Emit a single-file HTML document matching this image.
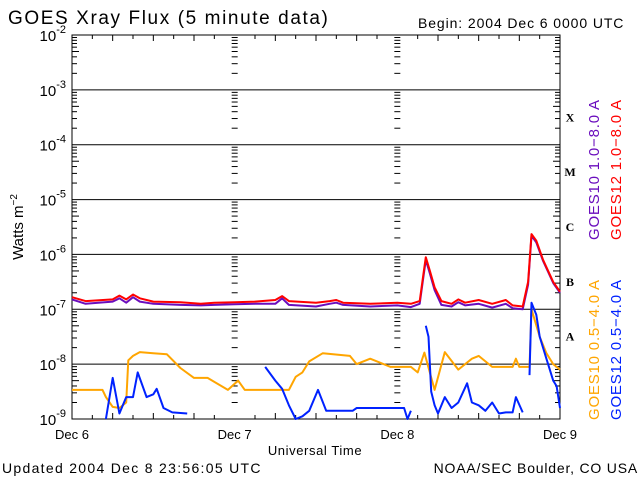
<!DOCTYPE html>
<html><head><meta charset="utf-8"><style>
body{margin:0;background:#fff}
svg{display:block;font-family:"Liberation Sans",sans-serif}
</style></head><body>
<svg id="c" width="640" height="480" viewBox="0 0 640 480">
<text x="8" y="24" font-size="19" letter-spacing="1.6">GOES Xray Flux (5 minute data)</text>
<text x="418" y="28" font-size="14" letter-spacing="0.9">Begin:  2004 Dec 6 0000 UTC</text>
<text x="315" y="455" font-size="13" letter-spacing="0.6" text-anchor="middle">Universal Time</text>
<text x="2" y="473" font-size="14" letter-spacing="1.3">Updated 2004 Dec  8 23:56:05 UTC</text>
<text x="638" y="473" font-size="14" letter-spacing="0.8" text-anchor="end">NOAA/SEC Boulder, CO USA</text>
<text transform="translate(23,227) rotate(-90)" font-size="15" text-anchor="middle">Watts m<tspan dy="-6" font-size="10">−2</tspan></text>
<g font-size="15" letter-spacing="0.8">
<text transform="translate(599,240) rotate(-90)" fill="#6a0dbd">GOES10 1.0−8.0 A</text>
<text transform="translate(621,240) rotate(-90)" fill="#ff0000">GOES12 1.0−8.0 A</text>
<text transform="translate(599,420) rotate(-90)" fill="#ffa500">GOES10 0.5−4.0 A</text>
<text transform="translate(621,420) rotate(-90)" fill="#0022ff">GOES12 0.5−4.0 A</text>
</g>
</svg>
<script>
const dayLabels=["Dec 6","Dec 7","Dec 8","Dec 9"];
const decadeExps=[-2,-3,-4,-5,-6,-7,-8,-9];
const classLetters=["X","M","C","B","A"];
const g12LongT=[0,2,6,7,8,9,10,12,16,19,21,24,27,30,31,32,36,38,39,40,44,48,50,51.3,51.8,52.2,52.8,53.5,54.5,56,57,58,60,62,64,65,66.5,67.3,67.8,68.5,69.5,71,72];
const g12LongV=[-6.78,-6.85,-6.82,-6.75,-6.82,-6.73,-6.8,-6.86,-6.87,-6.9,-6.88,-6.87,-6.86,-6.83,-6.76,-6.85,-6.88,-6.85,-6.83,-6.88,-6.9,-6.88,-6.9,-6.85,-6.4,-6.05,-6.3,-6.6,-6.85,-6.9,-6.82,-6.88,-6.83,-6.9,-6.83,-6.93,-6.95,-6.5,-5.63,-5.75,-6.1,-6.5,-6.68];
const g10LongT=[0,2,6,7,8,9,10,12,16,19,21,24,27,30,31,32,36,38,39,40,44,48,50,51.3,51.8,52.2,52.8,53.5,54.5,56,57,58,60,62,64,65,66.5,67.3,67.8,68.5,69.5,71,72];
const g10LongV=[-6.82,-6.9,-6.86,-6.8,-6.88,-6.78,-6.86,-6.9,-6.92,-6.93,-6.92,-6.91,-6.9,-6.9,-6.8,-6.92,-6.95,-6.9,-6.88,-6.92,-6.95,-6.93,-6.96,-6.9,-6.45,-6.1,-6.35,-6.65,-6.92,-6.95,-6.87,-6.93,-6.9,-6.97,-6.9,-6.98,-7.0,-6.55,-5.66,-5.78,-6.12,-6.52,-6.7];
const g10ShortT=[0,4.5,5,6,7,8,8.3,9,10,12,14,16,18,20,23,24.5,25.5,32,33,34,35,37,41,42,44,47,50,51,52,53.5,55,57,59,60,62,65,65.5,66,67.5,67.8,69,70,71,72];
const g10ShortV=[-8.47,-8.47,-8.6,-8.78,-8.8,-8.7,-7.93,-7.85,-7.78,-7.8,-7.82,-8.07,-8.25,-8.25,-8.47,-8.3,-8.47,-8.47,-8.23,-8.15,-7.95,-7.8,-7.85,-8.0,-7.9,-8.05,-8.05,-8.15,-7.79,-8.47,-7.78,-8.1,-7.9,-7.85,-8.05,-8.05,-7.9,-8.05,-8.05,-7.0,-7.5,-7.8,-8.0,-8.1];
const g12ShortT=[5,6,7,8,9,9.7,11,12,12.5,13.5,14.8,17,18,22,22.5,28.3,28.5,30,31,32,33,34,35,36.3,37.5,41.4,42,49,49.5,50,50.5,51.3,52.2,52.6,53,53.5,54,55,56,57,58.3,59,60,61,62,63,64,65,65.5,66.5,67,67.5,67.8,68.5,69,70,71,71.5,72];
const g12ShortV=[-9,-8.25,-8.9,-8.6,-8.6,-8.15,-8.6,-8.55,-8.45,-8.8,-8.88,-8.9,-9.1,-8.9,-9.1,-9.1,-8.05,-8.3,-8.45,-8.75,-9,-8.95,-8.85,-8.47,-8.85,-8.85,-8.8,-8.8,-9,-8.85,-9.1,-9.1,-7.3,-7.5,-8.5,-8.75,-8.9,-8.6,-8.8,-8.7,-8.35,-8.7,-8.75,-8.85,-8.7,-8.9,-8.88,-8.88,-8.6,-8.88,-9.05,-8.2,-6.88,-7.1,-7.5,-7.9,-8.3,-8.4,-8.8];

const NS="http://www.w3.org/2000/svg";
const svg=document.getElementById("c");
const L=72,R=560,T=35,B=419;
const xs=h=>L+(R-L)*h/72;
const ys=v=>T+(B-T)*(-2-v)/7;
function mk(tag,attrs,parent){const e=document.createElementNS(NS,tag);for(const k in attrs)e.setAttribute(k,attrs[k]);(parent||svg).appendChild(e);return e;}
const axes=mk("g",{stroke:"#000","stroke-width":1});


decadeExps.forEach((e,i)=>{
  const y=ys(e);
  const ln=mk("line",{x1:L,x2:R,y1:y,y2:y},axes);
  
  
  const lbl=mk("text",{x:L-6,y:y+6,"font-size":15,"text-anchor":"end",stroke:"none"});
  
  
  lbl.innerHTML='10<tspan dy="-8" font-size="11">'+e+'</tspan>';
  if(i<7){for(let m=2;m<=9;m++){const yy=ys(e-1+Math.log10(m));
    [L,R].forEach(x0=>{const d=x0===L?1:-1;mk("line",{x1:x0,x2:x0+d*(m===5?7:5),y1:yy,y2:yy},axes);});
    [1,2].forEach(d=>{const x=xs(d*24);mk("line",{x1:x-3,x2:x+3,y1:yy,y2:yy},axes);});
  }}
});
mk("rect",{x:L,y:T,width:R-L,height:B-T,fill:"none"},axes);
for(let h=3;h<72;h+=3){const x=xs(h);const len=h%24===0?0:(h%6===0?6:4);
  if(len){mk("line",{x1:x,x2:x,y1:B,y2:B-len},axes);mk("line",{x1:x,x2:x,y1:T,y2:T+len},axes);}}
dayLabels.forEach((d,i)=>{const t=mk("text",{x:xs(i*24),y:439,"font-size":13,"text-anchor":"middle",stroke:"none"});
  
  
  t.textContent=d;});
classLetters.forEach((c,i)=>{const t=mk("text",{x:570,y:ys(-3.5-i)+4,"font-size":12,"font-weight":"bold","font-family":"Liberation Serif,serif","text-anchor":"middle"});
  
  
  t.textContent=c;});
function series(T_,V,color,name){
  let d="",pen=false;
  for(let i=0;i<T_.length;i++){const v=V[i];
    if(v<-9){pen=false;continue;}
    const x=xs(T_[i]).toFixed(1),y=ys(v).toFixed(1);
    d+=(pen?"L":"M")+x+","+y;pen=true;
  }
  const p=mk("path",{d:d,fill:"none",stroke:color,"stroke-width":2,"stroke-linejoin":"round"});
  
  
}
series(g10ShortT,g10ShortV,"#ffa500","goes10-short-series");
series(g12ShortT,g12ShortV,"#0022ff","goes12-short-series");
series(g10LongT,g10LongV,"#6a0dbd","goes10-long-series");
series(g12LongT,g12LongV,"#ff0000","goes12-long-series");
</script>
</body></html>
